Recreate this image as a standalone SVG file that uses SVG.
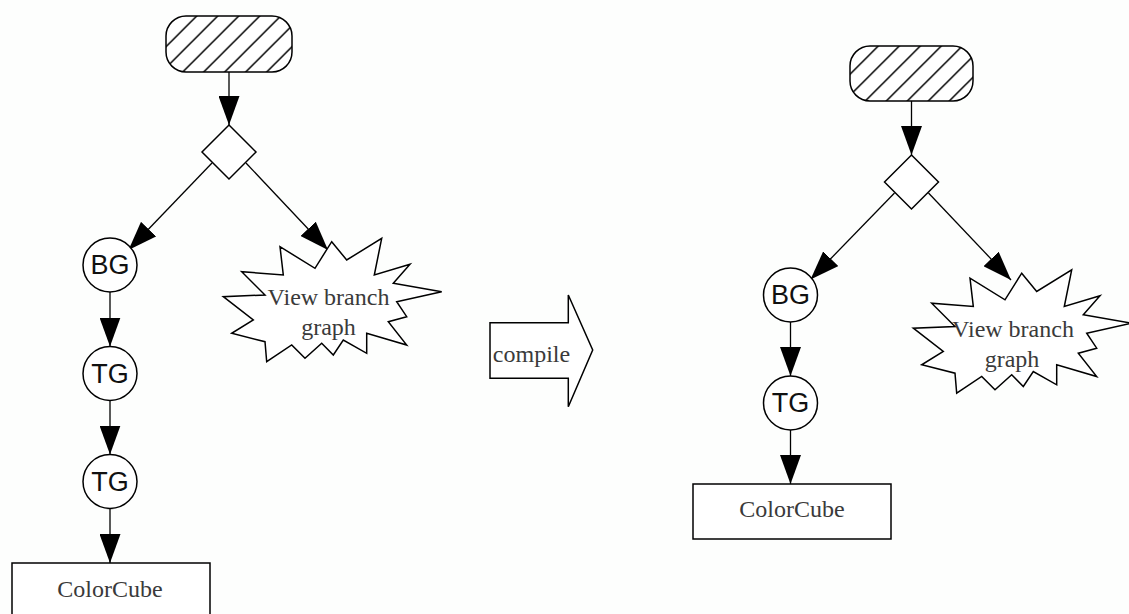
<svg xmlns="http://www.w3.org/2000/svg" width="1129" height="614" viewBox="0 0 1129 614">
<style>
.bg{fill:#fdfefd}
.shape{fill:#fff;stroke:#000;stroke-width:1.5}
.hatch{stroke:#000;stroke-width:1.5}
.conn{fill:none;stroke:#000;stroke-width:1.3;marker-end:url(#ah)}
.sans{font-family:"Liberation Sans",Arial,sans-serif;font-size:27px;fill:#111;text-anchor:middle}
.serif{font-family:"Liberation Serif","Times New Roman",serif;font-size:24px;fill:#3a3a3a;text-anchor:middle}
</style>
<defs>
<marker id="ah" markerUnits="userSpaceOnUse" markerWidth="29" markerHeight="21" viewBox="0 0 29 21" refX="29" refY="10.5" orient="auto">
<path d="M0,0 L29,10.5 L0,21 z" fill="#000"/>
</marker>
<pattern id="hatchL" patternUnits="userSpaceOnUse" x="2.7" y="0" width="21" height="21">
<rect width="21" height="21" fill="#fff"/>
<path d="M-2,2 L2,-2 M0,21 L21,0 M19,23 L23,19" class="hatch"/>
</pattern>
<pattern id="hatchR" patternUnits="userSpaceOnUse" x="0.3" y="0" width="21" height="21">
<rect width="21" height="21" fill="#fff"/>
<path d="M-2,2 L2,-2 M0,21 L21,0 M19,23 L23,19" class="hatch"/>
</pattern>
</defs>
<rect class="bg" x="0" y="0" width="1129" height="614"/>

<g id="connectors">
<path class="conn" d="M229,72 V125"/>
<path class="conn" d="M212,163 L128.5,250"/>
<path class="conn" d="M246,163 L328,250"/>
<path class="conn" d="M110,292 V346.5"/>
<path class="conn" d="M110,400.5 V454.5"/>
<path class="conn" d="M110,508.5 V563"/>
<path class="conn" d="M911.5,101 V155"/>
<path class="conn" d="M894.5,193 L810.5,279.5"/>
<path class="conn" d="M928.5,193 L1011,280"/>
<path class="conn" d="M790.5,322 V376"/>
<path class="conn" d="M790.5,430 V484"/>
</g>

<g id="left-root"><rect class="shape" x="166" y="16" width="126" height="56" rx="20" ry="20" fill="url(#hatchL)" style="fill:url(#hatchL)"/></g>
<g id="left-decision"><polygon class="shape" points="229,125 256,152 229,179 202,152"/></g>
<g id="left-bg"><circle class="shape" cx="110" cy="265" r="27"/><text class="sans" x="110" y="274">BG</text></g>
<g id="left-tg1"><circle class="shape" cx="110" cy="373.5" r="27"/><text class="sans" x="110" y="382.5">TG</text></g>
<g id="left-tg2"><circle class="shape" cx="110" cy="481.5" r="27"/><text class="sans" x="110" y="490.5">TG</text></g>
<g id="left-colorcube"><rect class="shape" x="12" y="563" width="198" height="62"/><text class="serif" x="110" y="597">ColorCube</text></g>
<g id="left-view">
<polygon class="shape" points="331.7,241.7 346.7,260 381.7,238.3 374.3,275 410,264.3 393.3,283.3 441.7,291.7 396.7,301.7 406.7,316.7 388.3,321.7 406.7,345 366.7,333.3 366.7,353.3 343.3,340 333.3,355 321.7,343.3 305,358.3 291.7,345 266.7,361.7 265,341.7 231.7,333.3 253.3,320 223.3,296.7 265,295 241.7,271.7 283.3,275 280,246.7 315,268.3"/>
<text class="serif" x="328.5" y="305">View branch</text>
<text class="serif" x="328.5" y="335">graph</text>
</g>

<g id="compile">
<polygon class="shape" points="490,322.7 568.3,322.7 568.3,295 592.7,350 568.3,406.7 568.3,378.3 490,378.3"/>
<text class="serif" x="531.5" y="362">compile</text>
</g>

<g id="right-root"><rect class="shape" x="850" y="46" width="123" height="55" rx="20" ry="20" style="fill:url(#hatchR)"/></g>
<g id="right-decision"><polygon class="shape" points="911.5,155 938.5,182 911.5,209 884.5,182"/></g>
<g id="right-bg"><circle class="shape" cx="790.5" cy="295" r="27"/><text class="sans" x="790.5" y="304">BG</text></g>
<g id="right-tg"><circle class="shape" cx="790.5" cy="403" r="27"/><text class="sans" x="790.5" y="412">TG</text></g>
<g id="right-colorcube"><rect class="shape" x="693" y="484" width="198" height="55"/><text class="serif" x="792" y="517">ColorCube</text></g>
<g id="right-view">
<polygon class="shape" transform="translate(690,31.5)" points="331.7,241.7 346.7,260 381.7,238.3 374.3,275 410,264.3 393.3,283.3 441.7,291.7 396.7,301.7 406.7,316.7 388.3,321.7 406.7,345 366.7,333.3 366.7,353.3 343.3,340 333.3,355 321.7,343.3 305,358.3 291.7,345 266.7,361.7 265,341.7 231.7,333.3 253.3,320 223.3,296.7 265,295 241.7,271.7 283.3,275 280,246.7 315,268.3"/>
<text class="serif" x="1013" y="336.5">View branch</text>
<text class="serif" x="1012" y="366.5">graph</text>
</g>
</svg>
